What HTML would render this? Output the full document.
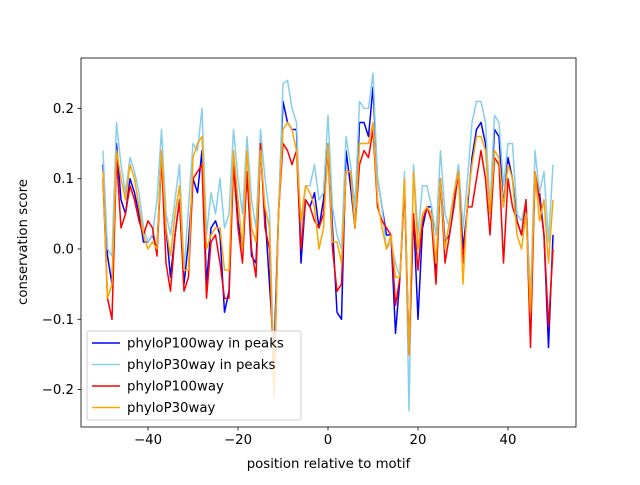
<!DOCTYPE html>
<html><head><meta charset="utf-8"><style>body{margin:0;background:#fff}svg{font-family:"DejaVu Sans","Liberation Sans",sans-serif}</style></head>
<body>
<svg id="chart" width="640" height="480" xmlns="http://www.w3.org/2000/svg"></svg>
<script>
const positions = [];
for (let i = -50; i <= 50; i++) positions.push(i);
const pk30 = [.14,.00,-.01,.18,.12,.08,.13,.11,.08,.03,.01,.02,.07,.17,.05,.02,.07,.12,-.03,.06,.15,.14,.20,.02,.08,.05,.10,.03,.05,.17,.10,.05,.16,.07,.03,.17,.10,.05,-.18,.05,.235,.24,.20,.18,.02,.09,.09,.12,.07,.08,.19,.06,.02,.00,.16,.12,.06,.21,.20,.20,.25,.10,.06,.00,.01,-.02,-.04,.11,-.23,.12,.02,.09,.09,.06,.02,.14,.05,.03,.08,.12,.03,.10,.18,.21,.21,.18,.06,.19,.18,.09,.15,.15,.05,.04,.07,-.07,.14,.08,.11,.01,.12];
const pk100 = [.12,-.01,-.05,.15,.07,.05,.10,.08,.05,.01,.01,.02,.00,.14,.03,-.04,.02,.07,-.05,.01,.10,.08,.14,-.05,.03,.04,.02,-.09,-.06,.13,.04,.00,.11,-.01,-.02,.14,.05,-.05,-.15,.05,.21,.18,.17,.17,-.02,.07,.06,.08,.03,.07,.15,.03,-.09,-.10,.14,.09,.03,.18,.18,.16,.23,.10,.06,.02,.02,-.12,-.04,.09,-.15,.05,-.10,.03,.06,.06,-.03,.10,.01,.02,.07,.11,.00,.06,.13,.17,.18,.15,.05,.17,.16,.06,.13,.10,.04,.02,.07,-.08,.10,.08,.02,-.14,.02];
const all100 = [.10,-.07,-.10,.13,.03,.05,.09,.07,.04,.02,.04,.03,-.01,.13,-.02,-.06,.02,.07,-.06,-.04,.10,.11,.12,-.07,.01,.02,-.02,-.07,-.07,.12,.03,-.02,.11,.00,-.04,.15,.03,.00,-.20,.05,.15,.14,.12,.14,.00,.07,.06,.04,.03,.05,.14,.00,-.06,-.05,.11,.11,.03,.12,.14,.13,.17,.06,.04,.03,.02,-.08,-.04,.09,-.15,.05,-.03,.04,.06,.04,-.05,.10,-.02,.02,.06,.11,-.02,.06,.06,.10,.14,.10,.02,.13,.12,-.02,.10,.06,.04,.02,.07,-.14,.11,.07,.02,-.11,.00];
const all30 = [.11,-.07,-.05,.14,.10,.07,.12,.10,.06,.02,.00,.01,.00,.14,.03,-.01,.05,.09,-.03,-.03,.13,.15,.16,.00,.02,.03,.03,-.03,-.03,.14,.07,.00,.14,.03,.01,.14,.06,.03,-.21,.05,.17,.18,.17,.14,.04,.09,.08,.06,.00,.03,.15,.01,.01,-.02,.11,.11,.03,.15,.15,.15,.18,.07,.03,.00,.02,-.04,-.04,.10,-.15,.11,.00,.05,.06,.05,-.02,.10,.00,.04,.08,.11,-.05,.07,.12,.16,.16,.14,.05,.14,.13,.06,.12,.10,.02,.00,.05,-.09,.11,.04,.07,-.02,.07];
const xTicks = [-40,-20,0,20,40];
const yTicks = [-0.2,-0.1,0.0,0.1,0.2];
const yTickLabels = ["\u22120.2","\u22120.1","0.0","0.1","0.2"];
const xTickLabels = ["\u221240","\u221220","0","20","40"];

const NS = "http://www.w3.org/2000/svg";
const svg = document.getElementById('chart');
const L = 81, R = 576, T = 58, B = 427;
const xs = v => 328 + v * 4.5;
const ys = v => 249 - v * 703;
function mk(tag, attrs, parent) {
  const e = document.createElementNS(NS, tag);
  for (const k in attrs) e.setAttribute(k, attrs[k]);
  (parent || svg).appendChild(e);
  return e;
}
const series = [
  {name:"phyloP100way in peaks", vals:pk100, color:"#0000ff", id:"pk100"},
  {name:"phyloP30way in peaks", vals:pk30, color:"#87ceeb", id:"pk30"},
  {name:"phyloP100way", vals:all100, color:"#ff0000", id:"all100"},
  {name:"phyloP30way", vals:all30, color:"#ffa500", id:"all30"}
];
const clip = mk('clipPath', {id:'clip'});
mk('rect', {x:L, y:T, width:R-L, height:B-T}, clip);
series.forEach(s => {
  const d = s.vals.map((v,i) => (i? 'L':'M') + xs(positions[i]).toFixed(2) + ',' + ys(v).toFixed(2)).join(' ');
  const p = mk('path', {d:d, fill:'none', stroke:s.color, 'stroke-width':1.5, 'clip-path':'url(#clip)', 'stroke-linejoin':'round'});
  
  
});
const frame = mk('rect', {x:L, y:T, width:R-L, height:B-T, fill:'none', stroke:'#000', 'stroke-width':0.8});


xTicks.forEach((t,i) => {
  const x = xs(t);
  mk('line', {x1:x, x2:x, y1:B, y2:B+3.5, stroke:'#000', 'stroke-width':0.8});
  const tx = mk('text', {x:x, y:B+17, 'font-size':13.3, 'text-anchor':'middle', fill:'#000'});
  tx.textContent = xTickLabels[i];
  
  
});
yTicks.forEach((t,i) => {
  const y = ys(t);
  mk('line', {x1:L-3.5, x2:L, y1:y, y2:y, stroke:'#000', 'stroke-width':0.8});
  const tx = mk('text', {x:L-7, y:y+4.5, 'font-size':13.3, 'text-anchor':'end', fill:'#000'});
  tx.textContent = yTickLabels[i];
  
  
});
const xt = mk('text', {x:(L+R)/2, y:468, 'font-size':13.3, 'text-anchor':'middle'});
xt.textContent = 'position relative to motif';


const yt = mk('text', {x:0, y:0, 'font-size':13.3, 'text-anchor':'middle', transform:'translate(27,242) rotate(-90)'});
yt.textContent = 'conservation score';


const lg = mk('g', {});


mk('rect', {x:87, y:331, width:214, height:89, rx:2, fill:'#fff', 'fill-opacity':0.8, stroke:'#ccc', 'stroke-width':1}, lg);
series.forEach((s,i) => {
  const y = 343 + i * 21.5;
  const ln = mk('line', {x1:92, x2:120, y1:y, y2:y, stroke:s.color, 'stroke-width':1.5}, lg);
  
  
  const tx = mk('text', {x:127, y:y+4.7, 'font-size':13.3}, lg);
  tx.textContent = s.name;
  
  
});
</script>
</body></html>
